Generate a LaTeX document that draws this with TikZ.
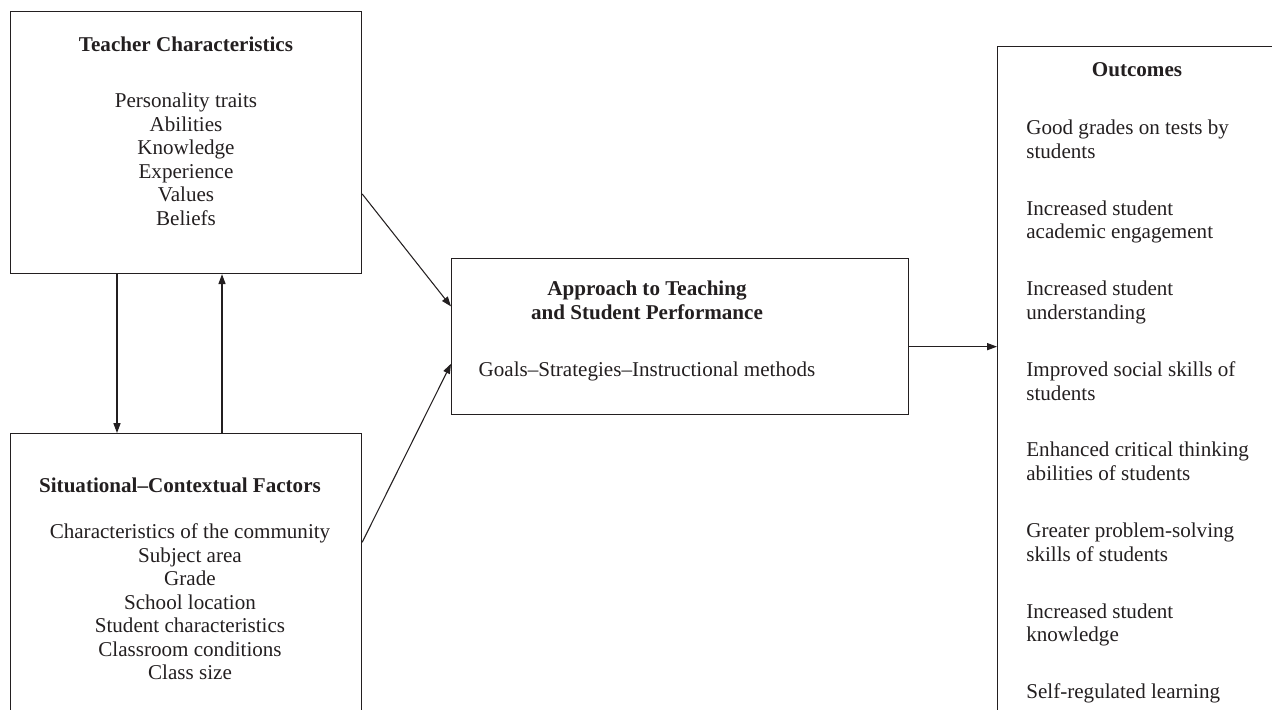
\documentclass[tikz,border=0pt]{standalone}
\usepackage{fontspec}
\setmainfont{Liberation Serif}
\usetikzlibrary{positioning,arrows.meta,calc}
\definecolor{ink}{HTML}{231F20}

\begin{document}
\begin{tikzpicture}[x=0.02cm, y=-0.02cm,
    box/.style={draw=ink, line width=0.7pt, inner sep=0pt, anchor=north west},
    head/.style={font=\fontsize{12}{13.4}\selectfont\bfseries, text=ink, align=center, inner sep=0pt, anchor=north},
    body/.style={font=\fontsize{12}{13.4}\selectfont, text=ink, align=center, inner sep=0pt, anchor=north},
    item/.style={font=\fontsize{12}{13.4}\selectfont, text=ink, align=left, inner sep=0pt, anchor=north west},
    link/.style={draw=ink, line width=0.6pt, -{Triangle[length=5.6pt,width=4pt]}}]

    \useasboundingbox (0,0) rectangle (1272,710);
    \clip (0,0) rectangle (1272,710);

    % Boxes
    \node[box, minimum width=7.02cm, minimum height=5.24cm] (teacher) at (10,11) {};
    \node[box, minimum width=7.02cm, minimum height=6cm] (context) at (10,433) {};
    \node[box, minimum width=9.14cm, minimum height=3.12cm] (approach) at (451,258) {};
    \node[box, minimum width=6cm, minimum height=14cm] (outcome) at (997,46) {};

    % Teacher characteristics
    \node[head] (teacherhead) at (186,37) {Teacher Characteristics};
    \node[body] (teacherlist) at (186,92.5) {Personality traits\\Abilities\\Knowledge\\Experience\\Values\\Beliefs};

    % Situational factors
    \node[head] (contexthead) at (180,477.5) {Situational--Contextual Factors};
    \node[body] (contextlist) at (190,523.5) {Characteristics of the community\\Subject area\\Grade\\School location\\Student characteristics\\Classroom conditions\\Class size};

    % Approach to teaching
    \node[head] (approachhead) at (647,280.5) {Approach to Teaching\\and Student Performance};
    \node[body] (approachlist) at (647,361.5) {Goals--Strategies--Instructional methods};

    % Outcomes
    \node[head] (outcomehead) at (1137,62.5) {Outcomes};
    \foreach \txt [count=\i from 0] in {{Good grades on tests by\\students},
        {Increased student\\academic engagement},
        {Increased student\\understanding},
        {Improved social skills of\\students},
        {Enhanced critical thinking\\abilities of students},
        {Greater problem-solving\\skills of students},
        {Increased student\\knowledge},
        {Self-regulated learning}}
      \node[item] (item\i) at (1026,119.5+80.6*\i) {\txt};

    % Connectors
    \draw[link] ($(teacher.south west)+(107,0)$) -- ($(context.north west)+(107,0)$);
    \draw[link] ($(context.north west)+(212,0)$) -- ($(teacher.south west)+(212,0)$);
    \draw[link] ($(teacher.north east)!0.695!(teacher.south east)$) -- ($(approach.north west)!0.308!(approach.south west)$);
    \draw[link] ($(context.north east)!0.363!(context.south east)$) -- ($(approach.north west)!0.673!(approach.south west)$);
    \coordinate (aout) at ($(approach.north east)!0.564!(approach.south east)$);
    \draw[link] (aout) -- (outcome.west |- aout);

\end{tikzpicture}
\end{document}
